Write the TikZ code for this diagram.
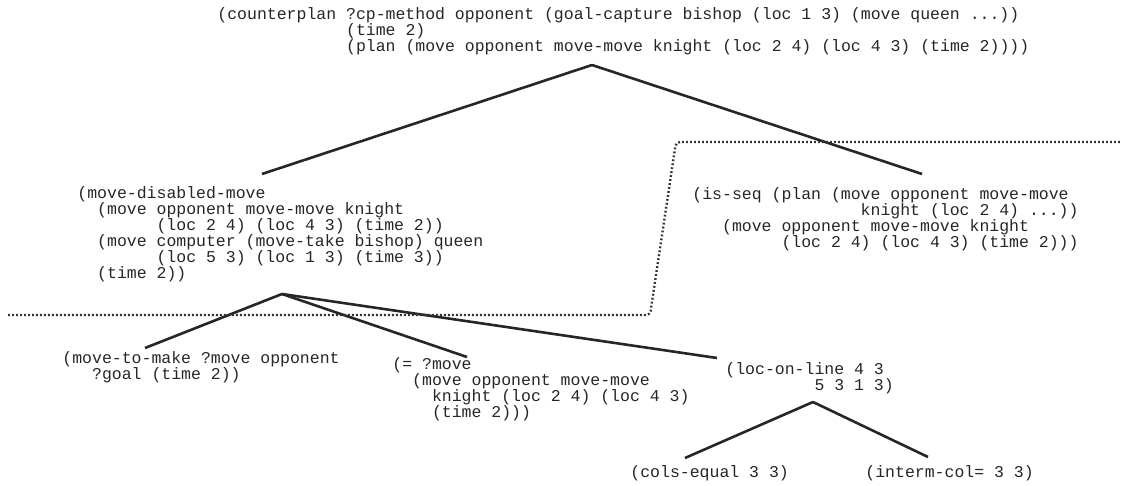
\documentclass[tikz,border=0pt]{standalone}
\usepackage{fontspec}
\newfontfamily\lispfont{Liberation Mono}
\usetikzlibrary{positioning}
\newcommand\ind[1]{\hspace*{#1\dimexpr0.6em\relax}}
\tikzset{
  sexp/.style={font=\lispfont\fontsize{8.25}{8}\selectfont, text=black!85,
    align=left, inner sep=0pt, anchor=north west},
  branch/.style={line width=1.3pt, draw=black!85},
  cut/.style={line width=1.2pt, draw=black!80, dash pattern=on 0.9pt off 1.1pt,
    rounded corners=2pt}
}

\begin{document}
\begin{tikzpicture}[x=0.5pt,y=-0.5pt]
	\useasboundingbox (0,0) rectangle (1121,486);
	%Nodes
	\node[sexp] (cp) at (217,7) {(counterplan ?cp-method opponent (goal-capture bishop (loc 1 3) (move queen ...))\\
		\ind{13}(time 2)\\
		\ind{13}(plan (move opponent move-move knight (loc 2 4) (loc 4 3) (time 2))))};
	\node[sexp] (dis) at (77,186) {(move-disabled-move\\
		\ind{2}(move opponent move-move knight\\
		\ind{8}(loc 2 4) (loc 4 3) (time 2))\\
		\ind{2}(move computer (move-take bishop) queen\\
		\ind{8}(loc 5 3) (loc 1 3) (time 3))\\
		\ind{2}(time 2))};
	\node[sexp] (seq) at (692,187) {(is-seq (plan (move opponent move-move\\
		\ind{17}knight (loc 2 4) ...))\\
		\ind{3}(move opponent move-move knight\\
		\ind{9}(loc 2 4) (loc 4 3) (time 2)))};
	\node[sexp] (mtm) at (62,351) {(move-to-make ?move opponent\\
		\ind{3}?goal (time 2))};
	\node[sexp] (eq) at (392,357) {(= ?move\\
		\ind{2}(move opponent move-move\\
		\ind{4}knight (loc 2 4) (loc 4 3)\\
		\ind{4}(time 2)))};
	\node[sexp] (lol) at (725,362) {(loc-on-line 4 3\\
		\ind{9}5 3 1 3)};
	\node[sexp] (cols) at (630,465) {(cols-equal 3 3)};
	\node[sexp] (interm) at (865,465) {(interm-col= 3 3)};
	%Branch ends
	\coordinate (cp-root) at (592,65);
	\coordinate (dis-top) at (262,174);
	\coordinate (seq-top) at (922,174);
	\coordinate (dis-root) at (282,294);
	\coordinate (mtm-top) at (145,348);
	\coordinate (eq-top) at (467,357);
	\coordinate (lol-top) at (717,358);
	\coordinate (lol-root) at (813,402);
	\coordinate (cols-top) at (685,458);
	\coordinate (interm-top) at (928,457);
	%Branches
	\draw[branch]
		(cp-root) edge (dis-top)
		(cp-root) edge (seq-top)
		
		(dis-root) edge (mtm-top)
		(dis-root) edge (eq-top)
		(dis-root) edge (lol-top)
		
		(lol-root) edge (cols-top)
		(lol-root) edge (interm-top)
	;
	%Cut line
	\coordinate (cut-w) at (8,315);
	\coordinate (cut-sw) at (650,315);
	\coordinate (cut-ne) at (676,142);
	\coordinate (cut-e) at (1121,142);
	\draw[cut] (cut-w) -- (cut-sw) -- (cut-ne) -- (cut-e);
\end{tikzpicture}
\end{document}
